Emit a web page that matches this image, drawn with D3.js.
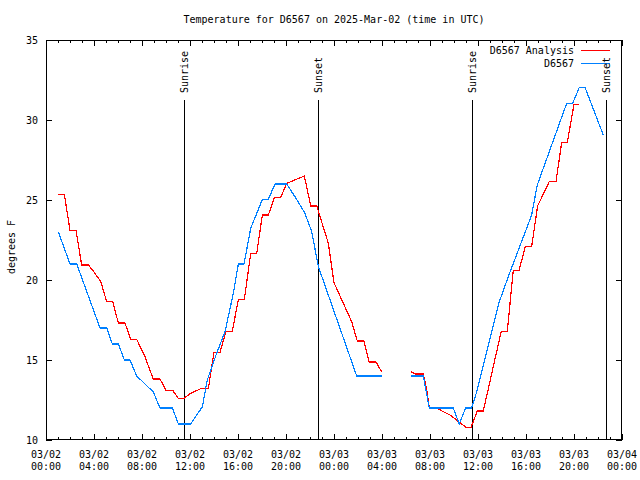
<!DOCTYPE html>
<html>
<head>
<meta charset="utf-8">
<script src="https://cdn.jsdelivr.net/npm/d3@7/dist/d3.min.js"></script>
<style>
  html, body { margin: 0; padding: 0; background: #fff; }
  svg { display: block; }
  text { font-family: "DejaVu Sans Mono", "Liberation Mono", monospace; font-size: 10px; fill: #000; }
</style>
</head>
<body>
<svg id="chart" width="640" height="480"></svg>
<script>
// ---- Data (hours since 2025-03-02 00:00 UTC) ----
const titleText = "Temperature for D6567 on 2025-Mar-02 (time in UTC)";
const yLabel = "degrees F";
const seriesNames = ["D6567 Analysis", "D6567"];

const analysisHours = [1.03, 1.53, 2.0, 2.5, 2.97, 3.53, 4.0, 4.56, 5.06, 5.56, 6.03, 6.58, 7.06, 7.56, 8.25, 8.94, 9.5, 10.0, 10.56, 11.03, 11.5, 12.0, 12.97, 13.53, 14.0, 14.5, 15.0, 15.53, 16.03, 16.53, 17.06, 17.56, 18.03, 18.53, 19.03, 19.56, 20.06, 21.53, 22.06, 22.56, 23.53, 24.0, 25.47, 25.94, 26.5, 26.94, 27.5, 27.97,
  null,
  30.44, 30.83, 31.44, 31.72, 31.94, 32.42, 33.67, 34.5, 35.0, 35.42, 35.94, 36.44, 37.94, 38.44, 38.94, 39.42, 39.94, 40.47, 40.97, 41.94, 42.5, 42.97, 43.44, 44.0, 44.44];
const analysisTemps = [25.36, 25.36, 23.1, 23.1, 20.94, 20.94, 20.5, 19.9, 18.64, 18.64, 17.31, 17.31, 16.29, 16.29, 15.2, 13.81, 13.81, 13.1, 13.1, 12.6, 12.6, 12.9, 13.23, 13.23, 15.48, 15.48, 16.8, 16.8, 18.79, 18.79, 21.67, 21.67, 24.06, 24.06, 25.17, 25.17, 26.04, 26.5, 24.63, 24.63, 22.29, 19.83, 17.4, 16.19, 16.19, 14.87, 14.87, 14.27,
  null,
  14.25, 14.12, 14.12, 13.17, 12.04, 12.04, 11.56, 11.08, 10.79, 10.79, 11.81, 11.81, 16.8, 16.8, 20.6, 20.6, 22.08, 22.08, 24.63, 26.15, 26.15, 28.58, 28.58, 30.98, 30.98];

const obsHours = [1.03, 2.0, 2.56, 4.5, 5.06, 5.53, 6.03, 6.53, 7.0, 7.56, 8.94, 9.5, 10.53, 11.03, 12.06, 13.03, 13.44, 14.22, 14.92, 15.61, 16.03, 16.5, 17.06, 18.03, 18.53, 19.08, 20.06, 20.75, 21.58, 22.14, 22.7, 25.89, 27.97,
  null,
  30.44, 31.44, 31.94, 33.94, 34.44, 34.97, 35.47, 35.94, 37.78, 38.47, 40.47, 40.94, 43.39, 43.89, 44.44, 44.92, 46.44];
const obsTemps = [23.0, 21.0, 21.0, 17.0, 17.0, 16.0, 16.0, 15.0, 15.0, 14.0, 13.0, 12.0, 12.0, 11.0, 11.0, 12.08, 13.75, 15.42, 16.77, 19.17, 21.0, 21.0, 23.23, 25.04, 25.04, 26.0, 26.0, 25.2, 24.17, 23.02, 20.83, 14.0, 14.0,
  null,
  14.0, 14.0, 12.0, 12.0, 11.0, 12.0, 12.0, 13.13, 18.65, 20.1, 24.06, 25.94, 31.04, 31.04, 32.04, 32.04, 29.06];

const sunLabels = ["Sunrise", "Sunset", "Sunrise", "Sunset"];
const sunHours = [11.5, 22.67, 35.47, 46.64];

const yTicks = [10, 15, 20, 25, 30, 35];
const yDomain = [10, 35];
const startTime = Date.UTC(2025, 2, 2, 0, 0);
const endTime = Date.UTC(2025, 2, 4, 0, 0);

// ---- Layout ----
const mLeft = 46, mRight = 622, mTop = 40, mBottom = 440;
const toDate = h => new Date(startTime + h * 3600 * 1000);

const svg = d3.select("#chart");
const x = d3.scaleUtc().domain([new Date(startTime), new Date(endTime)]).range([mLeft, mRight]);
const y = d3.scaleLinear().domain(yDomain).range([mBottom, mTop]);

// Title
svg.append("text").attr("x", (mLeft + mRight) / 2).attr("y", 23)
  .attr("text-anchor", "middle").text(titleText);

// Y label
svg.append("text").attr("transform", `translate(11,${(mTop + mBottom) / 2 + 7}) rotate(-90)`)
  .attr("text-anchor", "middle").attr("dominant-baseline", "central").text(yLabel);

const g = svg.append("g").attr("shape-rendering", "crispEdges");

// Border
g.append("rect").attr("x", mLeft + 0.5).attr("y", mTop + 0.5)
  .attr("width", mRight - mLeft - 1).attr("height", mBottom - mTop - 1)
  .attr("fill", "none").attr("stroke", "#000").attr("stroke-width", 1);

// X ticks (minor every hour, major every 4 hours), on bottom and top
const minor = x.ticks(d3.utcHour.every(1));
const major = x.ticks(d3.utcHour.every(4));
minor.forEach(d => {
  const isMajor = d.getUTCHours() % 4 === 0;
  const len = isMajor ? 6 : 3;
  const px = Math.round(x(d)) + 0.5;
  g.append("line").attr("x1", px).attr("x2", px).attr("y1", mBottom).attr("y2", mBottom - len).attr("stroke", "#000");
  g.append("line").attr("x1", px).attr("x2", px).attr("y1", mTop).attr("y2", mTop + len).attr("stroke", "#000");
});
const fmtDate = d3.utcFormat("%m/%d"), fmtTime = d3.utcFormat("%H:%M");
major.forEach(d => {
  const t = svg.append("text").attr("x", x(d)).attr("text-anchor", "middle");
  t.append("tspan").attr("x", x(d)).attr("y", 458).text(fmtDate(d));
  t.append("tspan").attr("x", x(d)).attr("y", 470).text(fmtTime(d));
});

// Y ticks, both sides
yTicks.forEach(v => {
  const py = Math.round(y(v)) + 0.5;
  g.append("line").attr("x1", mLeft).attr("x2", mLeft + 6).attr("y1", py).attr("y2", py).attr("stroke", "#000");
  g.append("line").attr("x1", mRight - 6).attr("x2", mRight).attr("y1", py).attr("y2", py).attr("stroke", "#000");
  svg.append("text").attr("x", 38).attr("y", y(v)).attr("text-anchor", "end")
    .attr("dominant-baseline", "central").text(v);
});

// Sunrise / sunset lines
sunHours.forEach((h, i) => {
  const px = Math.round(x(toDate(h))) + 0.5;
  g.append("line").attr("x1", px).attr("x2", px).attr("y1", 100).attr("y2", mBottom).attr("stroke", "#000");
  svg.append("text").attr("transform", `translate(${px},93) rotate(-90)`)
    .attr("text-anchor", "start").attr("dominant-baseline", "central").text(sunLabels[i]);
});

// Lines
const line = d3.line()
  .defined(d => d[0] !== null && d[1] !== null)
  .x(d => x(toDate(d[0]))).y(d => y(d[1]));

const analysisData = analysisHours.map((h, i) => [h, analysisTemps[i]]);
const obsData = obsHours.map((h, i) => [h, obsTemps[i]]);

svg.append("path").datum(analysisData).attr("d", line)
  .attr("fill", "none").attr("stroke", "#ff0000").attr("stroke-width", 1.2)
  .attr("shape-rendering", "crispEdges");
svg.append("path").datum(obsData).attr("d", line)
  .attr("fill", "none").attr("stroke", "#0080ff").attr("stroke-width", 1.2)
  .attr("shape-rendering", "crispEdges");

// Legend
const legColors = ["#ff0000", "#0080ff"];
seriesNames.forEach((n, i) => {
  const ly = 50.5 + i * 13;
  svg.append("text").attr("x", 574).attr("y", ly).attr("text-anchor", "end")
    .attr("dominant-baseline", "central").text(n);
  g.append("line").attr("x1", 581).attr("x2", 610).attr("y1", ly).attr("y2", ly)
    .attr("stroke", legColors[i]);
});
</script>
</body>
</html>
